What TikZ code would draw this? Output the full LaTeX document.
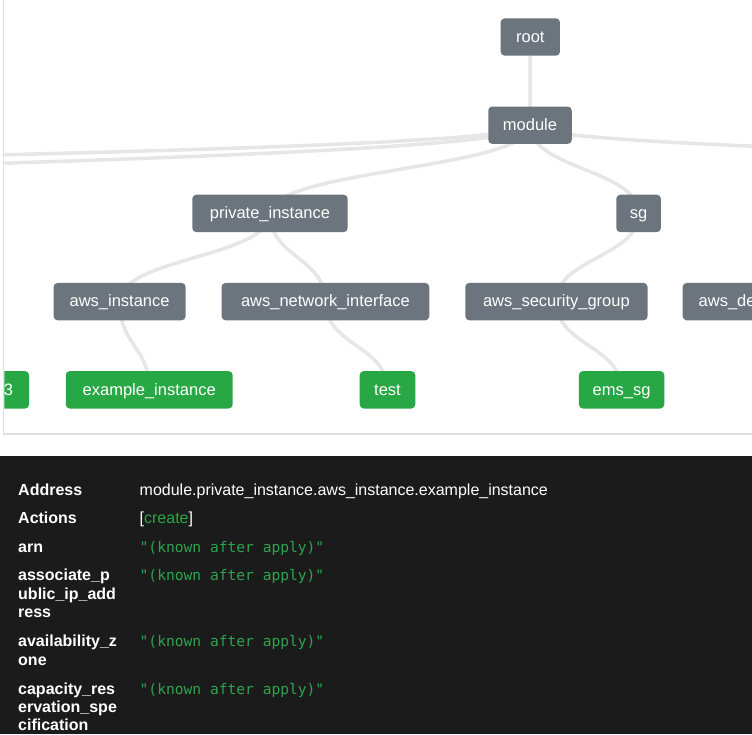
\documentclass[tikz,border=0pt]{standalone}
\usepackage{fontspec}
\setmainfont{Liberation Sans}
\newfontfamily\monof{DejaVu Sans Mono}
\pgfdeclarelayer{panel}
\pgfdeclarelayer{edges}
\pgfsetlayers{panel,edges,main}
\definecolor{nodegray}{HTML}{6C757D}
\definecolor{nodegreen}{HTML}{28A745}
\definecolor{edgegray}{HTML}{E6E6E6}
\definecolor{darkbg}{HTML}{1B1B1B}
\definecolor{bordergray}{HTML}{DEDEDE}
\definecolor{valgreen}{HTML}{2DA44E}
\tikzset{
  tnode/.style={rounded corners=4pt, text=white, inner xsep=4pt, inner ysep=0pt,
    minimum height=37.4pt, font=\fontsize{16.5}{20}\selectfont, text height=12.9pt, text depth=2.5pt},
  gnode/.style={tnode, fill=nodegray},
  rnode/.style={tnode, fill=nodegreen},
  link/.style={draw=edgegray, line width=3.5pt},
  lab/.style={anchor=base west, inner sep=0pt, text=white, font=\fontsize{16}{18}\selectfont\bfseries},
  val/.style={anchor=base west, inner sep=0pt, text=white, font=\fontsize{16}{18}\selectfont},
  mono/.style={anchor=base west, inner sep=0pt, text=valgreen, font=\monof\fontsize{14.6}{18}\selectfont},
}
\begin{document}
\begin{tikzpicture}[x=1pt, y=-1pt]
\useasboundingbox (0,0) rectangle (752,734);
\begin{pgfonlayer}{panel}
  \fill[white] (0,0) rectangle (752,734);
  \draw[bordergray, line width=1.5pt] (3.5,0) -- (3.5,434) -- (752,434);
  \fill[darkbg] (0,455.5) rectangle (752,734);
\end{pgfonlayer}
% tree nodes
\begin{scope}
  \clip (4.3,0) rectangle (752,433.2);
  \node[gnode, minimum width=59.3pt] (root) at (530.3,37) {root};
  \node[gnode, minimum width=83.5pt] (module) at (530,125.2) {module};
  \node[gnode, minimum width=155.4pt] (pinst) at (270,213.4) {private\_instance};
  \node[gnode, minimum width=44.6pt] (sg) at (638.6,213.4) {sg};
  \node[gnode, minimum width=132pt] (awsinst) at (119.6,301.6) {aws\_instance};
  \node[gnode, minimum width=207.7pt] (awsni) at (325.4,301.6) {aws\_network\_interface};
  \node[gnode, minimum width=182.3pt] (awssg) at (556.4,301.6) {aws\_security\_group};
  \node[gnode, anchor=west, inner xsep=16pt, text width=140pt, align=left] (awsde) at (682.5,301.6) {aws\_de};
  \node[rnode, anchor=east, inner xsep=16pt] (ex3) at (29.3,389.8) {3};
  \node[rnode, minimum width=166.9pt] (exinst) at (149.2,389.8) {example\_instance};
  \node[rnode, minimum width=55.6pt] (test) at (387.5,389.8) {test};
  \node[rnode, minimum width=85.4pt] (emssg) at (621.6,389.8) {ems\_sg};
  \coordinate (offL1) at (-2013,213.4);
  \coordinate (offL2) at (-908,213.4);
  \coordinate (offR) at (2877,213.4);
\end{scope}
% connectors
\begin{pgfonlayer}{edges}
\begin{scope}
  \clip (4.3,0) rectangle (752,433.2);
  \draw[link] (root.center) -- (module.center);
  \draw[link] (module.center) .. controls +(0,44) and +(0,-44) .. (pinst.center);
  \draw[link] (module.center) .. controls +(0,44) and +(0,-44) .. (sg.center);
  \draw[link] (module.center) .. controls +(0,44) and +(0,-44) .. (offL1);
  \draw[link] (module.center) .. controls +(0,44) and +(0,-44) .. (offL2);
  \draw[link] (module.center) .. controls +(0,44) and +(0,-44) .. (offR);
  \draw[link] (pinst.center) .. controls +(0,44) and +(0,-44) .. (awsinst.center);
  \draw[link] (pinst.center) .. controls +(0,44) and +(0,-44) .. (awsni.center);
  \draw[link] (sg.center) .. controls +(0,44) and +(0,-44) .. (awssg.center);
  \draw[link] (awsinst.center) .. controls +(0,44) and +(0,-44) .. (exinst.center);
  \draw[link] (awsni.center) .. controls +(0,44) and +(0,-44) .. (test.center);
  \draw[link] (awssg.center) .. controls +(0,44) and +(0,-44) .. (emssg.center);
\end{scope}
\end{pgfonlayer}
% details table
\node[lab] (kaddr) at (18,495) {Address};
\node[val] (vaddr) at (139.5,495) {module.private\_instance.aws\_instance.example\_instance};
\node[lab] (kact) at (18,523.3) {Actions};
\node[val] (vact) at (139.5,523.3) {[\textcolor{nodegreen}{create}]};
\node[lab] (karn) at (18,552) {arn};
\node[mono] (varn) at (139.5,552) {"(known after apply)"};
\node[lab] (kasa) at (18,580.7) {associate\_p};
\node[lab] (kasb) at (18,599) {ublic\_ip\_add};
\node[lab] (kasc) at (18,617.3) {ress};
\node[mono] (vas) at (139.5,580.7) {"(known after apply)"};
\node[lab] (kava) at (18,646.7) {availability\_z};
\node[lab] (kavb) at (18,665) {one};
\node[mono] (vav) at (139.5,646.7) {"(known after apply)"};
\node[lab] (kcra) at (18,694.3) {capacity\_res};
\node[lab] (kcrb) at (18,712.6) {ervation\_spe};
\node[lab] (kcrc) at (18,730.9) {cification};
\node[mono] (vcr) at (139.5,694.3) {"(known after apply)"};
\end{tikzpicture}
\end{document}
